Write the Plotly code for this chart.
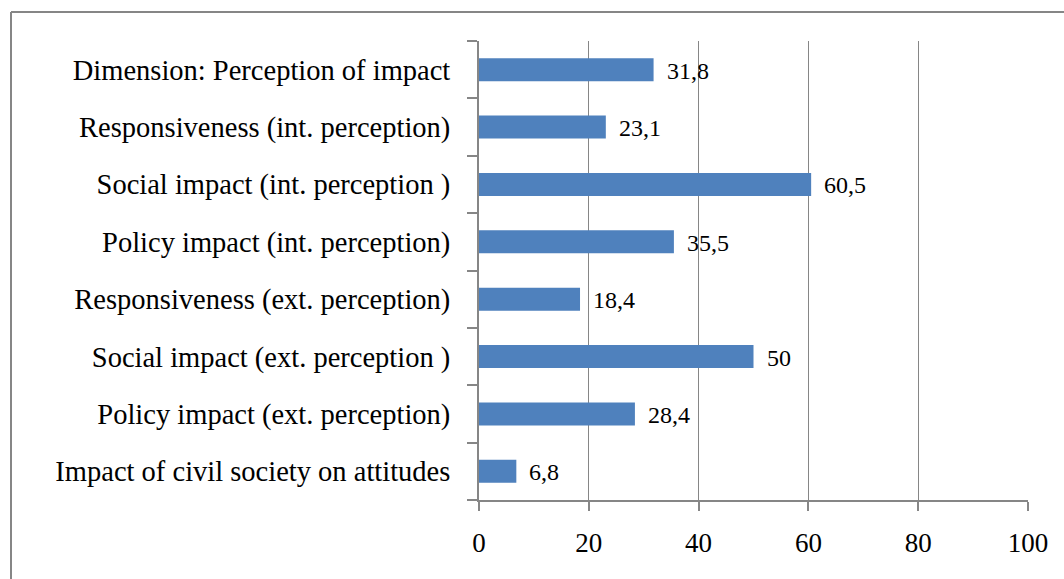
import plotly.graph_objects as go

categories = [
    "Impact of civil society on attitudes",
    "Policy impact (ext. perception)",
    "Social impact (ext. perception )",
    "Responsiveness (ext. perception)",
    "Policy impact (int. perception)",
    "Social impact (int. perception )",
    "Responsiveness (int. perception)",
    "Dimension: Perception of impact",
]
values = [6.8, 28.4, 50, 18.4, 35.5, 60.5, 23.1, 31.8]
value_labels = ["6,8", "28,4", "50", "18,4", "35,5", "60,5", "23,1", "31,8"]
x_ticks = [0, 20, 40, 60, 80, 100]

W, H = 1064, 579
L, R, T, B = 479, 36, 41, 79
pw, ph = W - L - R, H - T - B

fig = go.Figure()
fig.add_trace(go.Bar(
    x=values, y=categories, orientation="h",
    marker=dict(color="#4F81BD", line=dict(width=0)),
    hoverinfo="skip",
))
for v, c, t in zip(values, categories, value_labels):
    fig.add_annotation(x=v, y=c, text=t, showarrow=False, xanchor="left",
                       xshift=11, yshift=-1,
                       font=dict(family="Liberation Serif", size=24, color="#000000"))

def px_x(p):
    return (p - L) / pw

def px_y(p):
    return (H - B - p) / ph

gray = "#868686"
fig.add_shape(type="line", xref="paper", yref="paper",
              x0=px_x(11), x1=px_x(1080), y0=px_y(12), y1=px_y(12),
              line=dict(color=gray, width=2))
fig.add_shape(type="line", xref="paper", yref="paper",
              x0=px_x(11), x1=px_x(11), y0=px_y(12), y1=px_y(600),
              line=dict(color=gray, width=2))

fig.update_layout(
    width=W, height=H,
    margin=dict(l=L, r=R, t=T, b=B),
    paper_bgcolor="white", plot_bgcolor="white",
    bargap=0.6, showlegend=False,
    font=dict(family="Liberation Serif", color="#000000"),
    xaxis=dict(range=[0, 100], tickvals=x_ticks, ticktext=[str(v) for v in x_ticks],
               showgrid=True, gridcolor=gray, gridwidth=1.3,
               showline=True, linecolor=gray, linewidth=1.5,
               ticks="outside", ticklen=9, tickcolor=gray, tickwidth=1.5,
               tickfont=dict(family="Liberation Serif", size=27),
               ticklabelstandoff=9,
               zeroline=False, fixedrange=True),
    yaxis=dict(categoryorder="array", categoryarray=categories,
               showline=True, linecolor=gray, linewidth=2,
               ticks="outside", tickson="boundaries", ticklen=10,
               tickcolor=gray, tickwidth=1.5, showgrid=False,
               tickfont=dict(family="Liberation Serif", size=28.5),
               ticklabelstandoff=21, fixedrange=True),
)

fig.write_html("out.html")
